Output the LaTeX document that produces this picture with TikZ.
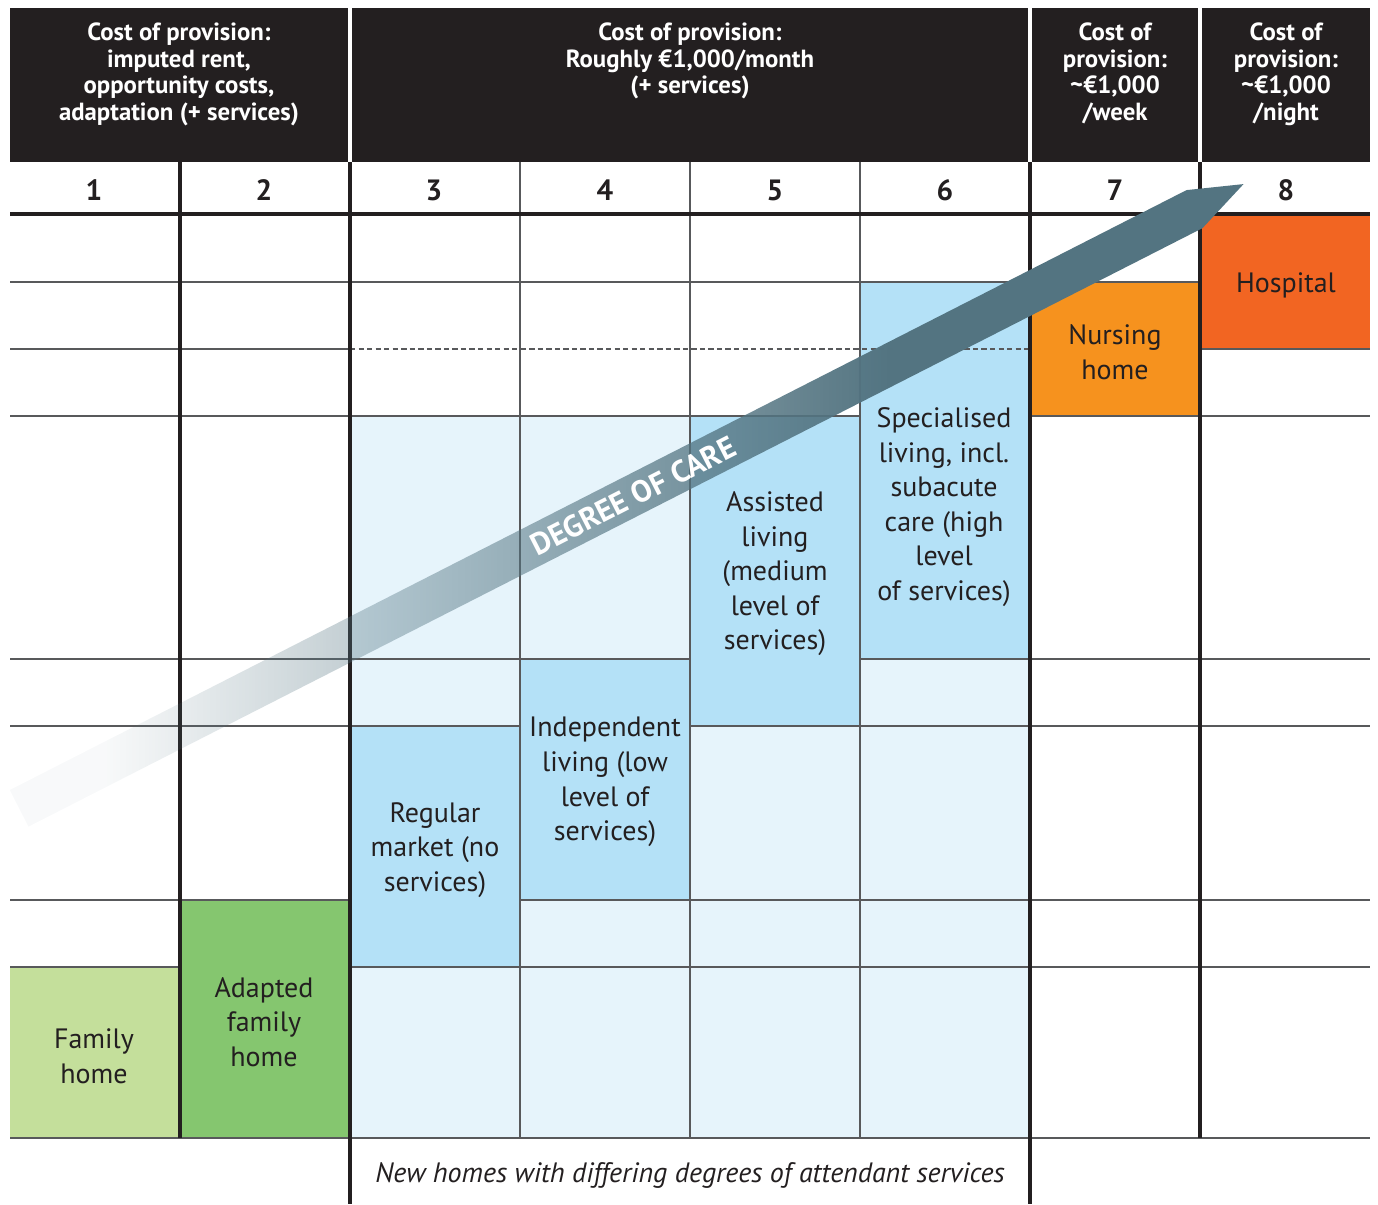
\documentclass[tikz,border=0pt]{standalone}
\usepackage{fontspec}
\setmainfont{PT Sans}
\usetikzlibrary{fadings}

\definecolor{ink}{HTML}{231F20}
\definecolor{gridgrey}{HTML}{58595B}
\definecolor{paleblue}{HTML}{E6F4FB}
\definecolor{midblue}{HTML}{B4E1F7}
\definecolor{lightgreen}{HTML}{C4DF9B}
\definecolor{midgreen}{HTML}{85C66F}
\definecolor{nurseorange}{HTML}{F6921E}
\definecolor{hospred}{HTML}{F26522}
\definecolor{bandcol}{HTML}{537481}

% opacity mask for the band: faint at the tail, solid from the middle on
\tikzfading[name=bandfade, left color=transparent!96, middle color=transparent!0, right color=transparent!0]

\begin{document}
\begin{tikzpicture}[x=0.75pt,y=-0.75pt,
  thinrule/.style={draw=gridgrey, line width=0.9pt},
  thickrule/.style={draw=ink, line width=2.6pt},
  hdtext/.style={text=white, font=\bfseries\fontsize{18.6}{19.8}\selectfont, align=center, anchor=north, inner sep=0pt},
  numtext/.style={text=ink, font=\bfseries\fontsize{22}{22}\selectfont, inner sep=0pt},
  celltext/.style={text=ink, font=\fontsize{21}{25.9}\selectfont, align=center, inner sep=0pt},
  bandtext/.style={text=white, font=\bfseries\fontsize{23}{23}\selectfont, inner sep=0pt},
]
\useasboundingbox (0,0) rectangle (1378,1204);
\fill[white] (0,0) rectangle (1378,1204);

% header blocks
\fill[ink] (10,8) rectangle (348,162);
\fill[ink] (352,8) rectangle (1028,162);
\fill[ink] (1032,8) rectangle (1198,162);
\fill[ink] (1202,8) rectangle (1370,162);

% coloured cells
\fill[paleblue] (350,416) rectangle (1030,1138);
\fill[midblue] (350,726) rectangle (520,967);
\fill[midblue] (520,659) rectangle (690,900);
\fill[midblue] (690,416) rectangle (860,726);
\fill[midblue] (860,282) rectangle (1030,659);
\fill[lightgreen] (10,967) rectangle (180,1138);
\fill[midgreen] (180,900) rectangle (350,1138);
\fill[nurseorange] (1030,282) rectangle (1200,416);
\fill[hospred] (1200,214) rectangle (1370,349);

% horizontal rules
\draw[thinrule] (10,282) -- (1200,282);
\draw[thinrule] (10,349) -- (350,349);
\draw[thinrule, dash pattern=on 4pt off 2.4pt] (350,349) -- (1030,349);
\draw[thinrule] (1200,349) -- (1370,349);
\draw[thinrule] (10,416) -- (860,416);
\draw[thinrule] (1030,416) -- (1370,416);
\draw[thinrule] (10,659) -- (690,659);
\draw[thinrule] (860,659) -- (1370,659);
\draw[thinrule] (10,726) -- (520,726);
\draw[thinrule] (690,726) -- (1370,726);
\draw[thinrule] (10,900) -- (350,900);
\draw[thinrule] (520,900) -- (1370,900);
\draw[thinrule] (10,967) -- (180,967);
\draw[thinrule] (350,967) -- (1370,967);
\draw[thinrule] (10,1138) -- (1370,1138);

% vertical rules
\foreach \x in {520,690,860} \draw[thinrule] (\x,162) -- (\x,1138);
\draw[thickrule] (180,162) -- (180,1138);
\draw[thickrule] (1200,162) -- (1200,1138);
\draw[thickrule] (350,162) -- (350,1204);
\draw[thickrule] (1030,162) -- (1030,1204);
\draw[thickrule] (10,214) -- (1370,214);

% header texts
\node[hdtext] (h12) at (179,23) {Cost of provision:\\imputed rent,\\opportunity costs,\\adaptation (+ services)};
\node[hdtext] (h36) at (690,23) {Cost of provision:\\Roughly €1,000/month\\(+ services)};
\node[hdtext] (h7) at (1115,23) {Cost of\\provision:\\\textasciitilde€1,000\\/week};
\node[hdtext] (h8) at (1286,23) {Cost of\\provision:\\\textasciitilde€1,000\\/night};

% column numbers
\foreach \n/\x in {1/94,2/264,3/434,4/605,5/775,6/945,7/1115,8/1286}
  \node[numtext] (n\n) at (\x,190) {\n};

% cell labels
\node[celltext] (family) at (94,1056) {Family\\home};
\node[celltext] (adapted) at (264,1022) {Adapted\\family\\home};
\node[celltext] (regular) at (435,850) {Regular\\market (no\\services)};
\node[celltext] (indep) at (605,782) {Independent\\living (low\\level of\\services)};
\node[celltext] (assisted) at (775,574) {Assisted\\living\\(medium\\level of\\services)};
\node[celltext] (special) at (944,507) {Specialised\\living, incl.\\subacute\\care (high\\level\\of services)};
\node[celltext] (nursing) at (1115,352) {Nursing\\home};
\node[celltext] (hospital) at (1286,285) {Hospital};
\node[celltext, font=\itshape\fontsize{21}{25.9}\selectfont] (caption) at (690,1175) {New homes with differing degrees of attendant services};

% degree-of-care band, fading in from the lower left
\fill[bandcol, path fading=bandfade, fit fading=false,
      fading transform={shift={(500,505)}, xscale=11.8, yscale=10}]
  (10,790) -- (1187,190) -- (1244,184) -- (1203,228) -- (28.6,826.5) -- cycle;
\node[bandtext, rotate=27] (care) at (633,496) {DEGREE OF CARE};
\end{tikzpicture}
\end{document}
